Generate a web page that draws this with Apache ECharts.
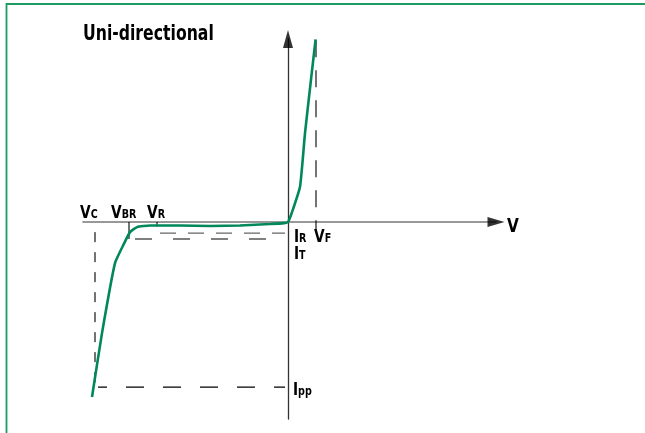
<!DOCTYPE html>
<html><head><meta charset="utf-8">
<script src="https://cdn.jsdelivr.net/npm/echarts@6/dist/echarts.min.js"></script>
<style>html,body{margin:0;padding:0;background:#fff}#c{width:645px;height:433px}</style>
</head><body><div id="c"></div>
<script>
// I-V characteristic (arbitrary units)
const curveV = [-9.8, -9.3, -8.65, -8.2, -7.9, -7.55, -6.9, -5.4, -3.9, -2.4, -0.9, -0.2, 0, 0.18, 0.6, 0.85, 1.13, 1.38];
const curveI = [-9.72, -6.17, -2.28, -1.2, -0.56, -0.28, -0.19, -0.19, -0.22, -0.19, -0.11, -0.06, 0, 0.48, 1.96, 4.94, 7.72, 10.15];
// Characteristic points
const vC = -9.65, vBR = -7.95, vR = -6.55, vF = 1.4;
const iR = -0.61, iT = -0.94, iPP = -9.17, iTop = 10.1;
// Axis ranges
const xMin = -10.25, xMax = 10.4, yMin = -10.94, yMax = 10.17;
// Label texts
const titleText = 'Uni-directional';
const axisName = 'V';

const FONT = "'Liberation Sans Narrow', 'DejaVu Sans Condensed', 'Arial Narrow', sans-serif";
const GREEN = '#00875a';
const SX = 0.85;

const chart = echarts.init(document.getElementById('c'), null, {renderer: 'canvas'});

function seg(points, color, type, width, dashOffset) {
  return {
    type: 'line', data: points, symbol: 'none', silent: true, animation: false,
    lineStyle: {color: color, width: width || 1, type: type || 'solid', dashOffset: dashOffset || 0}, z: 2
  };
}
const rich = {
  m: {fontFamily: FONT, fontWeight: 'bold', fontSize: 18, fill: '#000', verticalAlign: 'bottom', lineHeight: 20},
  b: {fontFamily: FONT, fontWeight: 'bold', fontSize: 20, fill: '#000', verticalAlign: 'bottom', lineHeight: 20},
  s: {fontFamily: FONT, fontWeight: 'bold', fontSize: 12.5, fill: '#000', verticalAlign: 'bottom', lineHeight: 20, padding: [0, 0, 1, 0]}
};

const option = {
  animation: false,
  backgroundColor: '#fff',
  graphic: [{type: 'rect', shape: {x: 6.5, y: 4, width: 800, height: 600},
    style: {fill: 'none', stroke: '#1f9a64', lineWidth: 1.8}, silent: true},
    {type: 'text', x: 83, y: 45.5, scaleX: SX, silent: true,
     style: {text: titleText, fontFamily: FONT, fontWeight: 'bold', fontSize: 20.5, fill: '#000',
             align: 'left', verticalAlign: 'bottom'}}],
  grid: {left: 83, top: 39, width: 413, height: 380},
  xAxis: {type: 'value', min: xMin, max: xMax,
    axisLine: {show: true, onZero: true, lineStyle: {color: '#777', width: 1.6}},
    axisTick: {show: false}, axisLabel: {show: false}, splitLine: {show: false}},
  yAxis: {type: 'value', min: yMin, max: yMax,
    axisLine: {show: true, onZero: true, lineStyle: {color: '#333', width: 1.3}},
    axisTick: {show: false}, axisLabel: {show: false}, splitLine: {show: false}},
  series: [
    seg([[vC, -0.56], [vC, iPP + 0.11]], '#000', [10, 10], 1.1),
    seg([[-9.5, iPP], [-0.15, iPP]], '#000', [18, 19], 1.1, 9),
    seg([[vR + 0.15, iR], [-0.15, iR]], '#666', [16, 12], 1.3),
    seg([[vBR, iT], [-0.15, iT]], '#000', [17, 21], 1.1, -6),
    seg([[vBR, 0], [vBR, iT]], '#000', 'solid', 1.1),
    seg([[vR, 0], [vR, -0.24]], '#000', 'solid', 1.1),
    seg([[vF, iTop], [vF, -0.44]], '#000', [17, 13], 1.1),
    {type: 'line', data: curveV.map((v, i) => [v, curveI[i]]), symbol: 'none', smooth: 0.15,
      lineStyle: {color: GREEN, width: 2.6}, z: 5, silent: true},
    {type: 'scatter', silent: true, z: 6, symbol: 'triangle',
      data: [{value: [xMax, 0], symbolSize: [10, 17], symbolRotate: -90},
             {value: [0, yMax], symbolSize: [10, 18], symbolRotate: 0}],
      itemStyle: {color: '#000'}}
  ]
};
chart.setOption(option);

// Annotation labels anchored at the characteristic points via the chart's own scales
const labels = [
  {at: [vC, 0], text: '{m|V}{s|C}', off: [-15, 0]},
  {at: [vBR, 0], text: '{m|V}{s|BR}', off: [-18, 0]},
  {at: [vR, 0], text: '{m|V}{s|R}', off: [-10, 0]},
  {at: [0, iR], text: '{m|I}{s|R}', off: [6, 13]},
  {at: [0, iT], text: '{m|I}{s|T}', off: [6, 24]},
  {at: [vF, 0], text: '{m|V}{s|F}', off: [-2, 24]},
  {at: [0, iPP], text: '{m|I}{s|pp}', off: [5, 12]},
  {at: [xMax, 0], text: '{b|' + axisName + '}', off: [11, 15]}
];
const g = option.graphic.slice();
labels.forEach(function (l) {
  const p = chart.convertToPixel({gridIndex: 0}, l.at);
  g.push({type: 'text', x: p[0] + l.off[0], y: p[1] + l.off[1], scaleX: SX, silent: true, z: 10,
    style: {text: l.text, rich: rich, align: 'left', verticalAlign: 'bottom'}});
});
chart.setOption({graphic: g}, {replaceMerge: ['graphic']});
</script></body></html>
